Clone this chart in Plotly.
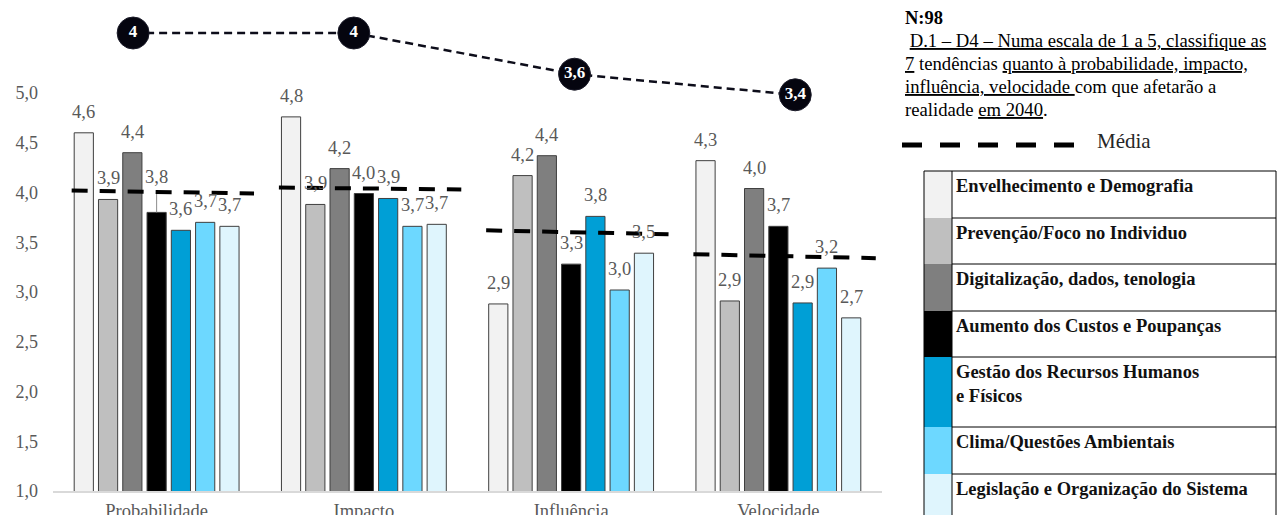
import plotly.graph_objects as go

# ---------------- data ----------------
categories = ["Probabilidade", "Impacto", "Influência", "Velocidade"]
series_names = [
    "Envelhecimento e Demografia",
    "Prevenção/Foco no Individuo",
    "Digitalização, dados, tenologia",
    "Aumento dos Custos e Poupanças",
    "Gestão dos Recursos Humanos<br>e Físicos",
    "Clima/Questões Ambientais",
    "Legislação e Organização do Sistema",
]
v_envelhecimento = [4.60, 4.76, 2.88, 4.32]
v_prevencao = [3.93, 3.88, 4.17, 2.91]
v_digitalizacao = [4.40, 4.24, 4.37, 4.04]
v_custos = [3.80, 3.99, 3.28, 3.66]
v_gestao = [3.62, 3.94, 3.76, 2.89]
v_clima = [3.70, 3.66, 3.02, 3.24]
v_legislacao = [3.66, 3.68, 3.39, 2.74]

l_envelhecimento = ["4,6", "4,8", "2,9", "4,3"]
l_prevencao = ["3,9", "3,9", "4,2", "2,9"]
l_digitalizacao = ["4,4", "4,2", "4,4", "4,0"]
l_custos = ["3,8", "4,0", "3,3", "3,7"]
l_gestao = ["3,6", "3,9", "3,8", "2,9"]
l_clima = ["3,7", "3,7", "3,0", "3,2"]
l_legislacao = ["3,7", "3,7", "3,5", "2,7"]

leader_custos = [0.20, 0.0, 0.0, 0.0]

mean_start = [4.02, 4.05, 3.62, 3.38]
mean_end = [3.99, 4.03, 3.58, 3.34]

overall_mean = [4, 4, 3.6, 3.4]
overall_labels = ["4", "4", "3,6", "3,4"]

y_ticks = [1.0, 1.5, 2.0, 2.5, 3.0, 3.5, 4.0, 4.5, 5.0]
y_tick_labels = ["1,0", "1,5", "2,0", "2,5", "3,0", "3,5", "4,0", "4,5", "5,0"]

# ---------------- style ----------------
values = [v_envelhecimento, v_prevencao, v_digitalizacao, v_custos, v_gestao, v_clima, v_legislacao]
labels = [l_envelhecimento, l_prevencao, l_digitalizacao, l_custos, l_gestao, l_clima, l_legislacao]
colors = ["#F2F2F2", "#BFBFBF", "#7F7F7F", "#000000", "#009FD6", "#6DD8FF", "#DFF5FD"]
SERIF = "Liberation Serif"
GRAY = "#595959"

W, H = 1282, 515
L, R, T, B = 53, 400, 10, 24
PW, PH = W - L - R, H - T - B
BARGAP, GROUPGAP = 0.18, 0.21


def px_x(px):
    return (px - L) / PW


def px_y(py):
    return (H - B - py) / PH


xs = list(range(len(categories)))
fig = go.Figure()

n = len(values)
slot = (1 - BARGAP) / n
annotations = []
for j, (name, vals, labs, col) in enumerate(zip(series_names, values, labels, colors)):
    kw = {}
    if j == 3:
        kw["error_y"] = dict(type="data", symmetric=False, array=leader_custos,
                             arrayminus=[0] * len(xs), color="#8c8c8c", thickness=1, width=0)
    fig.add_trace(go.Bar(
        x=xs, y=vals, name=name.replace("<br>", " "),
        marker=dict(color=col, line=dict(color="#3f3f3f", width=1)),
        showlegend=False, hoverinfo="skip", **kw))
    for i in xs:
        extra = leader_custos[i] if j == 3 else 0
        annotations.append(dict(
            x=i + (j - (n - 1) / 2) * slot, y=vals[i] + extra, xref="x", yref="y",
            text=labs[i], showarrow=False, yshift=21 if extra == 0 else 16,
            font=dict(family=SERIF, size=18.5, color=GRAY)))

# mean segments per category
mx, my = [], []
for i in xs:
    mx += [i - 0.41, i + 0.47, None]
    my += [mean_start[i], mean_end[i], None]
fig.add_trace(go.Scatter(x=mx, y=my, mode="lines",
                         line=dict(color="#000000", width=4, dash="16px,12px"),
                         showlegend=False, hoverinfo="skip"))

# overall mean line on top
fig.add_trace(go.Scatter(
    x=xs, y=overall_mean, xaxis="x2", yaxis="y2",
    mode="lines+markers+text", text=overall_labels, textposition="middle center",
    textfont=dict(family=SERIF, size=17, color="#ffffff", weight="bold"),
    line=dict(color="#0d0d1a", width=2.5, dash="8px,5px"),
    marker=dict(size=32, color="#05050f", line=dict(color="#1c1c2a", width=1)),
    showlegend=False, hoverinfo="skip", cliponaxis=False))

# ---------------- right-side legend ----------------
shapes = []
annotations.append(dict(x=px_x(903), y=px_y(18), xref="paper", yref="paper", xanchor="left",
                        yanchor="middle", showarrow=False, text="<b>N:98</b>",
                        font=dict(family=SERIF, size=18.5, color="#000000")))
para = [
    " <u>D.1 – D4 – Numa escala de 1 a 5, classifique as</u>",
    "<u>7</u> tendências <u>quanto à probabilidade, impacto,</u>",
    "<u>influência, velocidade </u>com que afetarão a",
    "realidade <u>em 2040</u>.",
]
for k, line in enumerate(para):
    annotations.append(dict(x=px_x(903), y=px_y(41 + k * 22.7), xref="paper", yref="paper",
                            xanchor="left", yanchor="middle", showarrow=False, text=line,
                            font=dict(family=SERIF, size=18.7, color="#000000")))

shapes.append(dict(type="line", xref="paper", yref="paper", x0=px_x(902), x1=px_x(1074),
                   y0=px_y(145), y1=px_y(145), line=dict(color="#000000", width=5, dash="20px,18px")))
annotations.append(dict(x=px_x(1095), y=px_y(141), xref="paper", yref="paper", xanchor="left",
                        yanchor="middle", showarrow=False, text="Média",
                        font=dict(family=SERIF, size=21, color="#262626")))

row_edges = [171, 218, 264, 311, 357, 427, 474, 540]
for k, (name, col) in enumerate(zip(series_names, colors)):
    y0, y1 = row_edges[k], row_edges[k + 1]
    shapes.append(dict(type="rect", xref="paper", yref="paper", x0=px_x(924), x1=px_x(952),
                       y0=px_y(y1), y1=px_y(y0), fillcolor=col, line=dict(width=0), layer="above"))
    shapes.append(dict(type="line", xref="paper", yref="paper", x0=px_x(952), x1=px_x(1276),
                       y0=px_y(y0), y1=px_y(y0), line=dict(color="#000000", width=1)))
    annotations.append(dict(x=px_x(954), y=px_y(y0 + 3), xref="paper", yref="paper",
                            xanchor="left", yanchor="top", align="left", showarrow=False,
                            text="<b>" + name + "</b>",
                            font=dict(family=SERIF, size=18.5, color="#111111")))
shapes.append(dict(type="line", xref="paper", yref="paper", x0=px_x(924), x1=px_x(952),
                   y0=px_y(171), y1=px_y(171), line=dict(color="#000000", width=1)))
for xv in (924, 952, 1276):
    shapes.append(dict(type="line", xref="paper", yref="paper", x0=px_x(xv), x1=px_x(xv),
                       y0=px_y(171), y1=px_y(540), line=dict(color="#000000", width=1)))

# ---------------- layout ----------------
fig.update_layout(
    width=W, height=H, autosize=False,
    margin=dict(l=L, r=R, t=T, b=B, pad=0, autoexpand=False),
    paper_bgcolor="#ffffff", plot_bgcolor="#ffffff",
    barmode="group", bargap=BARGAP, bargroupgap=GROUPGAP,
    separators=",.",
    showlegend=False,
    font=dict(family=SERIF, size=18, color=GRAY),
    xaxis=dict(range=[-0.5, len(categories) - 0.5], tickvals=xs, ticktext=categories,
               showgrid=False, zeroline=False, showline=True, linecolor="#D9D9D9", linewidth=2,
               ticks="", ticklabelstandoff=2, automargin=False,
               tickfont=dict(family=SERIF, size=18.5, color=GRAY)),
    yaxis=dict(range=[1, 1 + PH / 99.5], tickvals=y_ticks, ticktext=y_tick_labels,
               showgrid=False, zeroline=False, showline=False, ticks="",
               ticklabelstandoff=14, automargin=False,
               tickfont=dict(family=SERIF, size=18, color=GRAY)),
    xaxis2=dict(overlaying="x", range=[-0.363, 3.393], visible=False),
    yaxis2=dict(overlaying="y", range=[4 - (H - B - 33) / 103, 4 + (33 - T) / 103], visible=False),
    shapes=shapes,
    annotations=annotations,
)

fig.write_html("out.html")
